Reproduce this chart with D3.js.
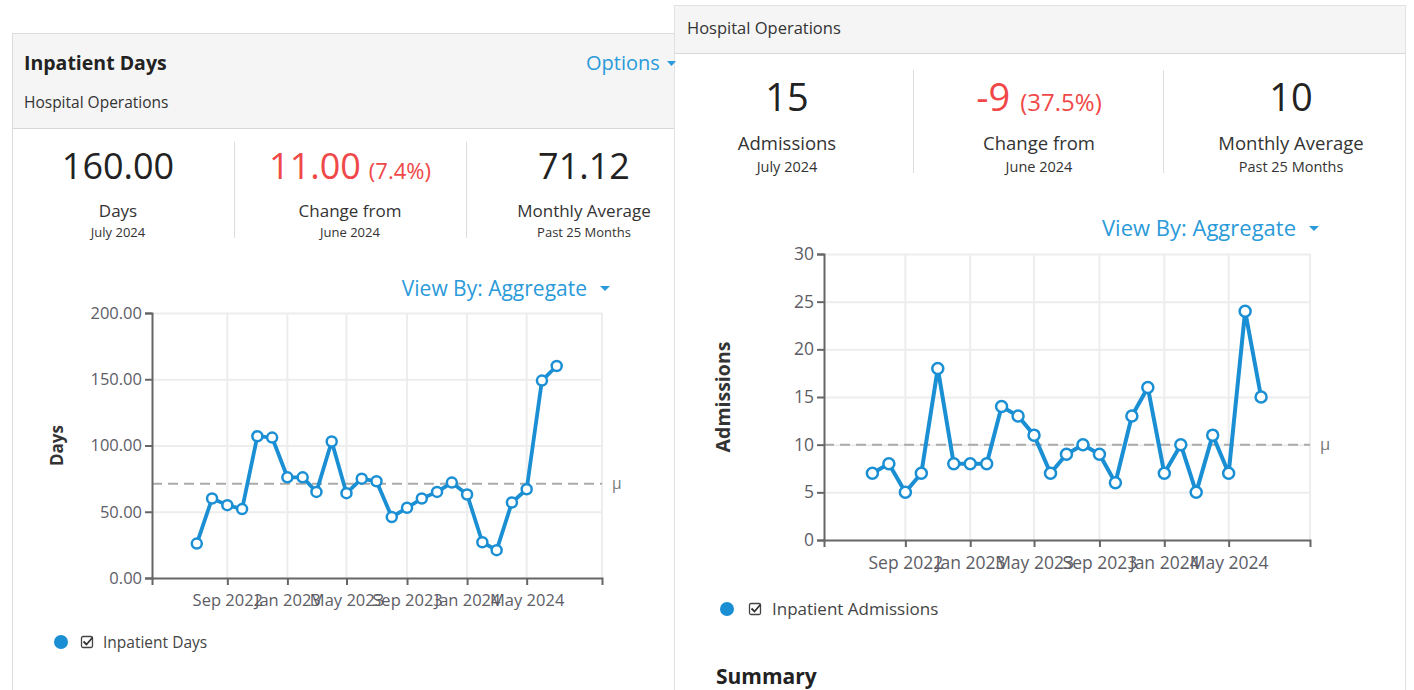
<!DOCTYPE html>
<html><head><meta charset="utf-8">
<script src="https://cdn.jsdelivr.net/npm/d3@7"></script>
<style>
html,body{margin:0;padding:0;background:#fff;}
svg{display:block;font-family:"Open Sans","Noto Sans",sans-serif;}
</style></head>
<body>
<svg id="c" width="1414" height="690"></svg>
<script>
// ---- data ----
const months = ["2022-07","2022-08","2022-09","2022-10","2022-11","2022-12",
  "2023-01","2023-02","2023-03","2023-04","2023-05","2023-06","2023-07","2023-08",
  "2023-09","2023-10","2023-11","2023-12","2024-01","2024-02","2024-03","2024-04",
  "2024-05","2024-06","2024-07"];
const inpatientDays = [26,60,55,52,107,106,76,76,65,103,64,75,73,46,53,60,65,72,63,27,21,57,67,149,160];
const inpatientAdmissions = [7,8,5,7,18,8,8,8,14,13,11,7,9,10,9,6,13,16,7,10,5,11,7,24,15];
const daysTicks = [0,50,100,150,200];
const admTicks = [0,5,10,15,20,25,30];
const xTickLabels = ["Sep 2022","Jan 2023","May 2023","Sep 2023","Jan 2024","May 2024"];
const xDomainLabels = ["2022-04","2024-10"];
const daysMean = 71.12;
const admissionsMean = 10;

const parseM = d3.timeParse("%Y-%m");
const parseTick = d3.timeParse("%b %Y");
const BLUE = "#1a8fd4", LINKBLUE = "#2a9ad9", RED = "#f04848";

const svg = d3.select("#c");

// ---- panels ----
svg.append("rect").attr("x",12.5).attr("y",33.5).attr("width",700).attr("height",700)
  .attr("fill","#fff").attr("stroke","#dcdcdc");
svg.append("rect").attr("x",13).attr("y",34).attr("width",700).attr("height",94).attr("fill","#f5f5f5");
svg.append("line").attr("x1",13).attr("x2",713).attr("y1",128.5).attr("y2",128.5).attr("stroke","#d8d8d8");
svg.append("rect").attr("x",674.5).attr("y",5.5).attr("width",731).attr("height",700)
  .attr("fill","#fff").attr("stroke","#e2e2e2");
svg.append("rect").attr("x",675).attr("y",6).attr("width",730).attr("height",47).attr("fill","#f5f5f5");
svg.append("line").attr("x1",675).attr("x2",1405).attr("y1",53.5).attr("y2",53.5).attr("stroke","#d8d8d8");

// headers
svg.append("text").attr("x",24).attr("y",70).attr("font-size",19.5).attr("font-weight","bold")
  .attr("fill","#222").text("Inpatient Days");
svg.append("text").attr("x",24).attr("y",108).attr("font-size",15.5).attr("fill","#333").text("Hospital Operations");
svg.append("text").attr("x",586).attr("y",70).attr("font-size",20).attr("fill",LINKBLUE).text("Options");
svg.append("path").attr("d","M667,61 l9,0 l-4.5,5 z").attr("fill",LINKBLUE);
svg.append("text").attr("x",687).attr("y",34).attr("font-size",16.5).attr("fill","#333").text("Hospital Operations");

// KPI blocks
function kpi(cx, o, parts, label, sub){
  const t = svg.append("text").attr("x",cx).attr("y",o.big).attr("text-anchor","middle");
  parts.forEach(p => t.append("tspan").attr("font-size",p.size).attr("fill",p.color).attr("dx",p.dx||0).text(p.text));
  svg.append("text").attr("x",cx).attr("y",o.lab).attr("text-anchor","middle").attr("font-size",o.labSize).attr("fill","#333").text(label);
  svg.append("text").attr("x",cx).attr("y",o.sub).attr("text-anchor","middle").attr("font-size",o.subSize).attr("fill","#333").text(sub);
}
const L = {big:179,lab:217,sub:237,labSize:17,subSize:13};
kpi(118,L,[{text:"160.00",size:36,color:"#222"}],"Days","July 2024");
kpi(350,L,[{text:"11.00",size:36,color:RED},{text:"(7.4%)",size:22,color:RED,dx:8}],"Change from","June 2024");
kpi(584,L,[{text:"71.12",size:36,color:"#222"}],"Monthly Average","Past 25 Months");
[234.5,466.5].forEach(x=>svg.append("line").attr("x1",x).attr("x2",x).attr("y1",142).attr("y2",238).attr("stroke","#ddd"));

const R = {big:111,lab:150,sub:172,labSize:18.5,subSize:14.5};
kpi(787,R,[{text:"15",size:38,color:"#222"}],"Admissions","July 2024");
kpi(1039,R,[{text:"-9",size:38,color:RED},{text:"(37.5%)",size:24,color:RED,dx:10}],"Change from","June 2024");
kpi(1291,R,[{text:"10",size:38,color:"#222"}],"Monthly Average","Past 25 Months");
[913.5,1163.5].forEach(x=>svg.append("line").attr("x1",x).attr("x2",x).attr("y1",70).attr("y2",173).attr("stroke","#ddd"));

// view by
function viewBy(xEnd, y, size){
  svg.append("text").attr("x",xEnd-22).attr("y",y).attr("text-anchor","end").attr("font-size",size)
    .attr("fill",LINKBLUE).text("View By: Aggregate");
  svg.append("path").attr("d",`M${xEnd-9},${y-10} l10,0 l-5,5 z`).attr("fill",LINKBLUE);
}
viewBy(609,296,21);
viewBy(1318,236,22);

// ---- charts ----
function drawChart(cfg){
  const g = svg.append("g");
  const x = d3.scaleTime().domain(xDomainLabels.map(parseM)).range([cfg.x0,cfg.x1]);
  const y = d3.scaleLinear().domain([cfg.ticks[0],cfg.ticks[cfg.ticks.length-1]]).range([cfg.y1,cfg.y0]);
  const xt = xTickLabels.map(parseTick);
  g.append("g").selectAll("line").data(cfg.ticks.slice(1)).join("line")
    .attr("x1",cfg.x0).attr("x2",cfg.x1).attr("y1",d=>y(d)+0.5).attr("y2",d=>y(d)+0.5)
    .attr("stroke","#ededed").attr("stroke-width",2);
  g.append("g").selectAll("line").data(xt.concat([x.domain()[1]])).join("line")
    .attr("x1",d=>x(d)).attr("x2",d=>x(d)).attr("y1",cfg.y0).attr("y2",cfg.y1)
    .attr("stroke","#ededed").attr("stroke-width",2);
  g.append("line").attr("x1",cfg.x0).attr("x2",cfg.x1).attr("y1",y(cfg.mean)).attr("y2",y(cfg.mean))
    .attr("stroke","#aaa").attr("stroke-width",2).attr("stroke-dasharray","10,6");
  g.append("text").attr("x",cfg.x1+10).attr("y",y(cfg.mean)+5).attr("font-size",cfg.fs-1).attr("fill","#777").text("μ");
  const ax = g.append("g").attr("transform",`translate(0,${cfg.y1})`)
    .call(d3.axisBottom(x).tickValues(xt).tickFormat(d3.timeFormat("%b %Y")).tickSize(7).tickSizeOuter(7));
  const ay = g.append("g").attr("transform",`translate(${cfg.x0},0)`)
    .call(d3.axisLeft(y).tickValues(cfg.ticks).tickFormat(cfg.fmt).tickSize(7).tickSizeOuter(7));
  [ax,ay].forEach(a=>{
    a.select(".domain").attr("stroke","#666").attr("stroke-width",2);
    a.selectAll(".tick line").attr("stroke","#666").attr("stroke-width",2);
    a.selectAll("text").attr("font-family","'Open Sans','Noto Sans',sans-serif").attr("font-size",cfg.fs).attr("fill","#5d5d66");
  });
  ax.selectAll("text").attr("dy","1.1em");
  g.append("text").attr("transform",`translate(${cfg.labelX},${(cfg.y0+cfg.y1)/2}) rotate(-90)`)
    .attr("text-anchor","middle").attr("font-size",cfg.labelSize).attr("font-weight","bold").attr("fill","#333").text(cfg.label);
  const pts = months.map((m,i)=>({d:parseM(m),v:cfg.values[i]}));
  g.append("path").datum(pts).attr("fill","none").attr("stroke",BLUE).attr("stroke-width",cfg.lw)
    .attr("stroke-linejoin","round")
    .attr("d",d3.line().x(p=>x(p.d)).y(p=>y(p.v)));
  g.selectAll("circle.pt").data(pts).join("circle").attr("class","pt")
    .attr("cx",p=>x(p.d)).attr("cy",p=>y(p.v)).attr("r",cfg.r)
    .attr("fill","#fff").attr("stroke",BLUE).attr("stroke-width",2.5);
  const lg = svg.append("g").attr("transform",`translate(${cfg.legX},${cfg.legY})`);
  lg.append("circle").attr("cx",0).attr("cy",0).attr("r",7).attr("fill",BLUE);
  lg.append("rect").attr("x",cfg.cbX+0.5).attr("y",-5.5).attr("width",11).attr("height",11).attr("rx",1.5)
    .attr("fill","#fff").attr("stroke","#444").attr("stroke-width",1.3);
  lg.append("path").attr("d",`M${cfg.cbX+2.5},-0.5 l3,3 l6,-7`).attr("fill","none").attr("stroke","#333").attr("stroke-width",1.8);
  lg.append("text").attr("x",cfg.txX).attr("y",5.5).attr("font-size",cfg.legSize).attr("fill","#444").text(cfg.legend);
}

drawChart({x0:152,x1:602,y0:313,y1:578,ticks:daysTicks,fmt:d3.format(".2f"),values:inpatientDays,
  mean:daysMean,label:"Days",labelX:63,labelSize:17,fs:16.5,lw:3.8,r:5,
  legX:61,legY:642,cbX:20,txX:42,legSize:15.5,legend:"Inpatient Days"});
drawChart({x0:824,x1:1310,y0:254,y1:540,ticks:admTicks,fmt:d3.format("d"),values:inpatientAdmissions,
  mean:admissionsMean,label:"Admissions",labelX:730,labelSize:19.5,fs:17.5,lw:4,r:5.5,
  legX:727,legY:609,cbX:22,txX:45,legSize:17,legend:"Inpatient Admissions"});

svg.append("text").attr("x",716).attr("y",684).attr("font-size",21).attr("font-weight","bold").attr("fill","#222").text("Summary");
</script>
</body></html>
